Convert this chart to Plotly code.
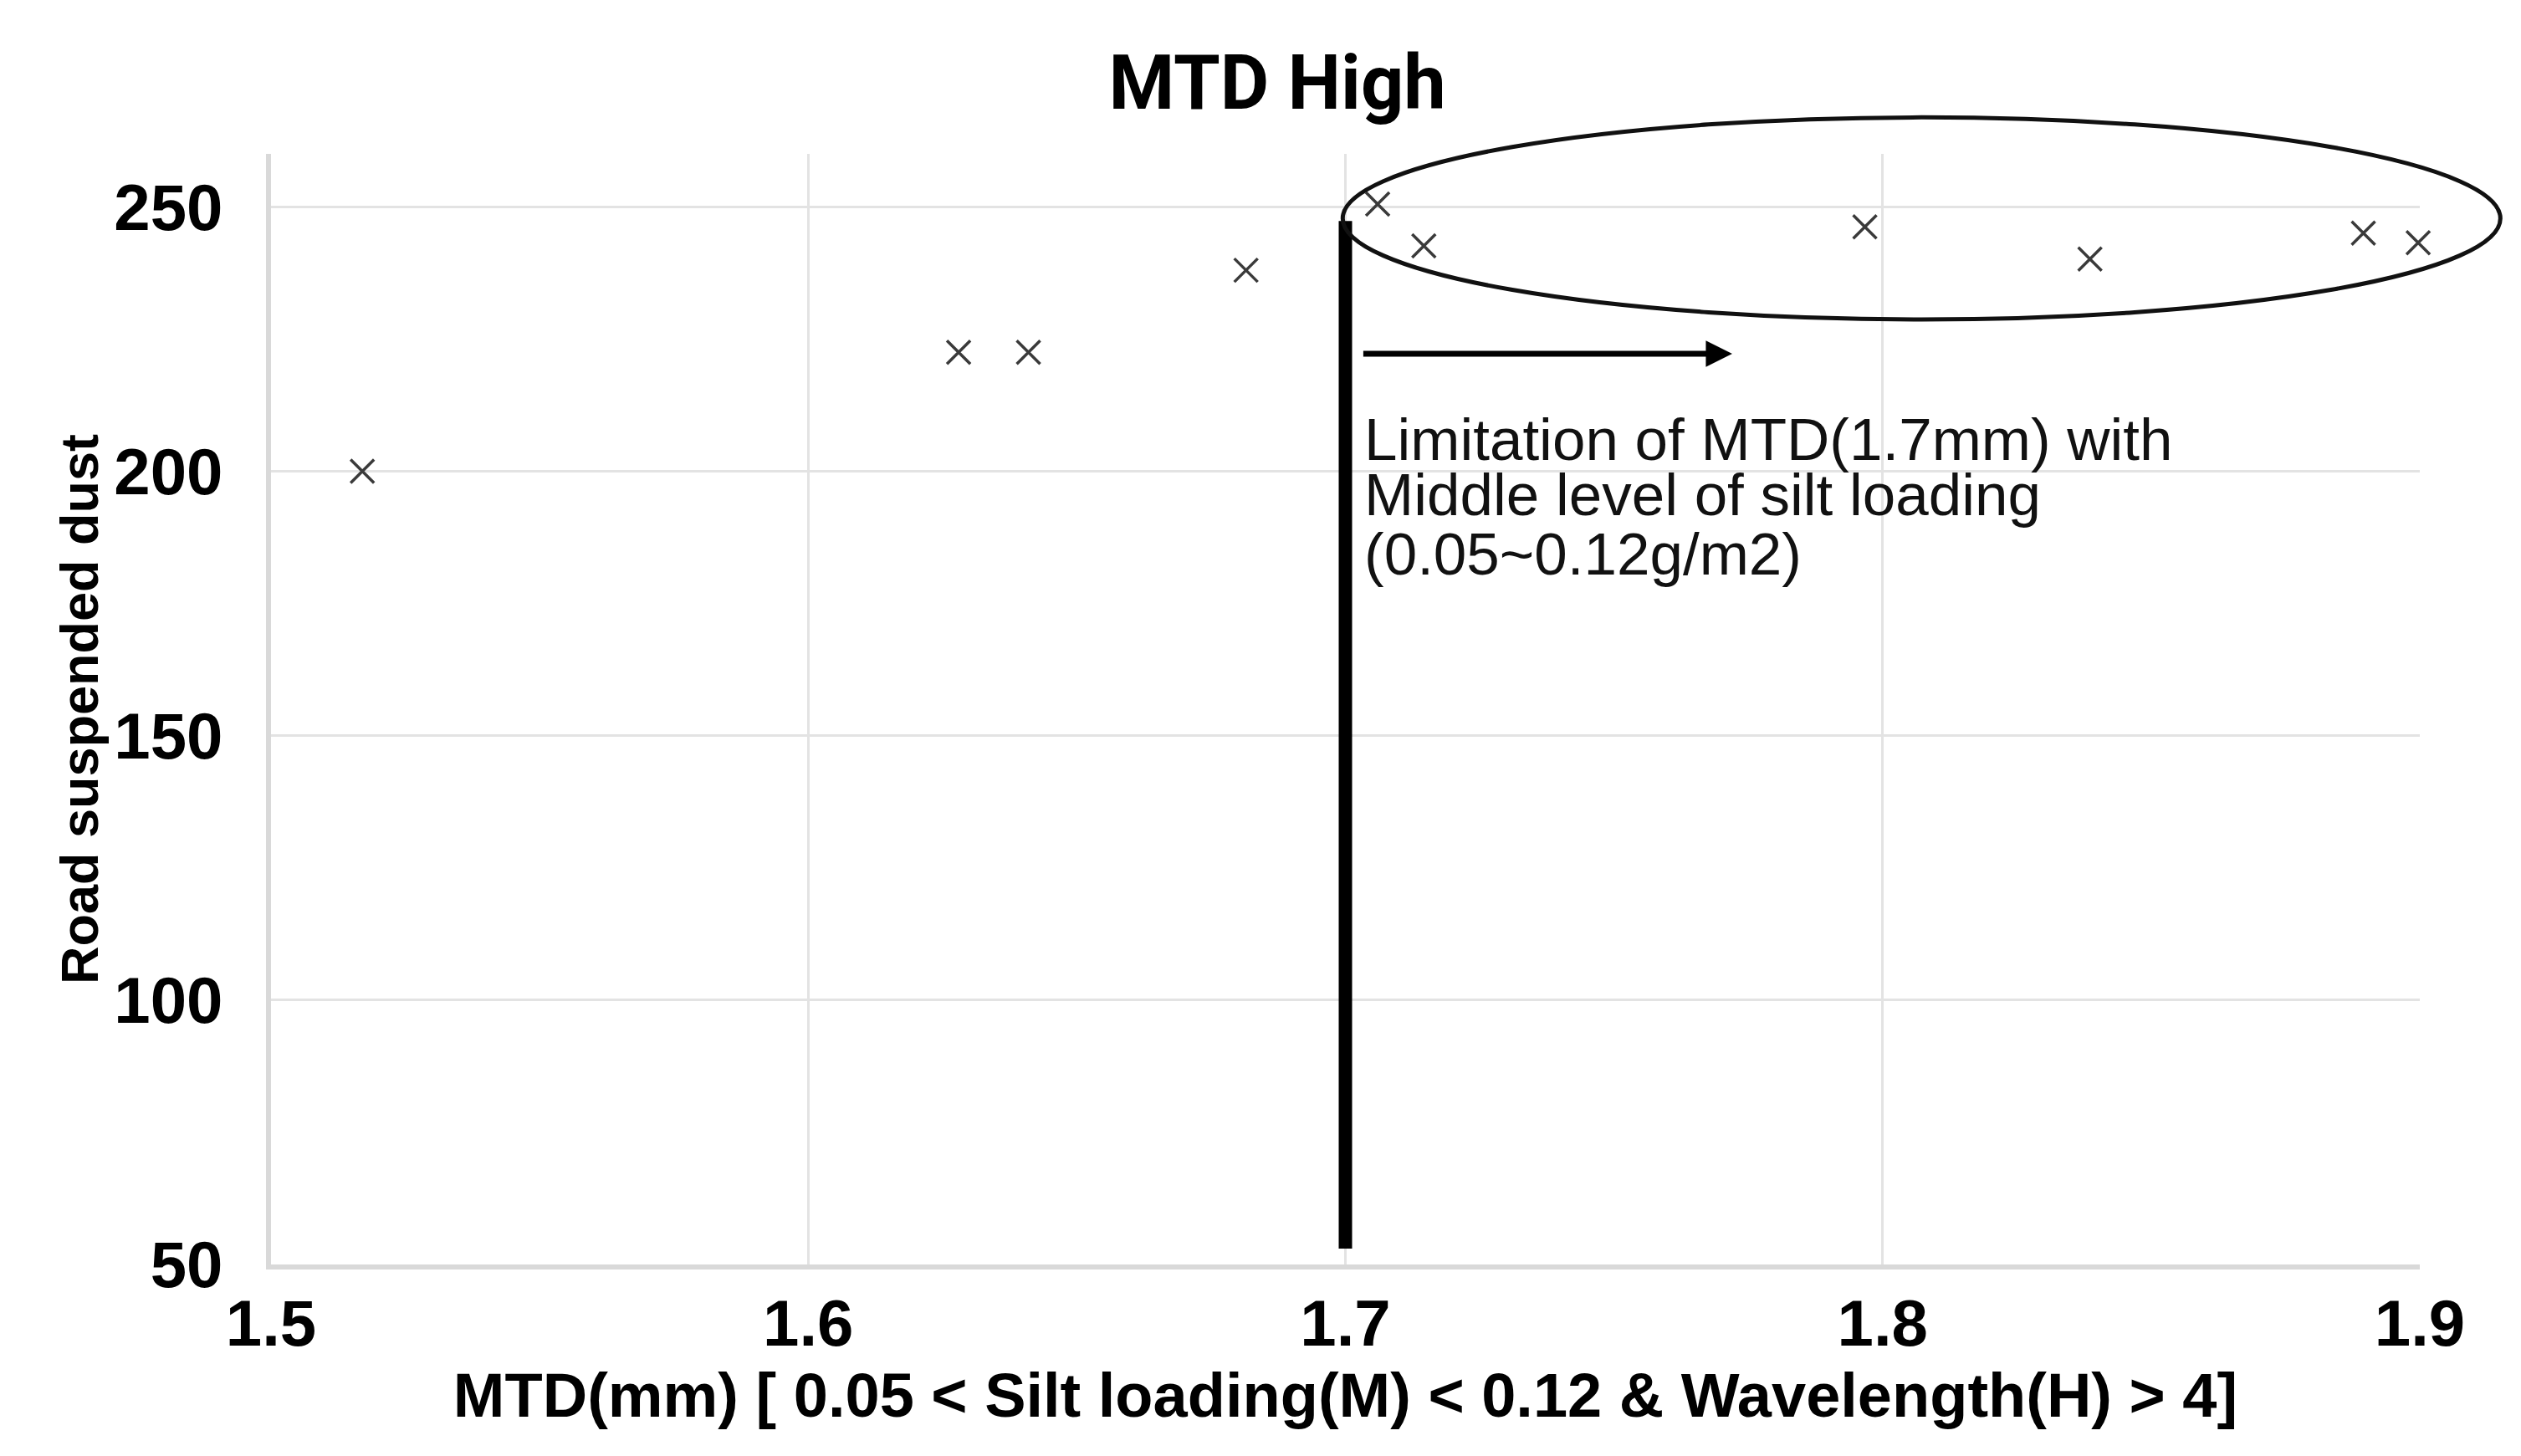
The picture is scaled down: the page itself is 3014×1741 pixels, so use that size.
import plotly.graph_objects as go

# ---- data ----
mtd = [1.517, 1.628, 1.641, 1.6815, 1.706, 1.7146, 1.7967, 1.8386, 1.8895, 1.8997]
dust = [200.0, 222.5, 222.5, 238.0, 250.5, 242.6, 246.2, 240.1, 245.0, 243.2]

x_ticks = [1.5, 1.6, 1.7, 1.8, 1.9]
x_tick_text = ["1.5", "1.6", "1.7", "1.8", "1.9"]
y_ticks = [50, 100, 150, 200, 250]
y_tick_text = ["50", "100", "150", "200", "250"]

x_range = [1.5, 1.9]
y_range = [50, 260]

limit_mtd = 1.7
limit_line_y = [53, 247.3]
arrow_from = (1.7031, 222.2)
arrow_to = (1.772, 222.2)
ellipse_x = [1.6995, 1.915]
ellipse_y = [228.7, 266.9]

note_lines = ["Limitation of MTD(1.7mm) with",
              "Middle level of silt loading",
              "(0.05~0.12g/m2)"]
note_y = [206.0, 195.5, 184.3]

title_text = "MTD High"
x_title = "MTD(mm) [ 0.05 < Silt loading(M) < 0.12 & Wavelength(H) > 4]"
y_title = "Road suspended dust"


def px_(x):
    return (x - x_range[0]) / (x_range[1] - x_range[0])


def py_(y):
    return (y - y_range[0]) / (y_range[1] - y_range[0])


fig = go.Figure()
fig.add_trace(go.Scatter(
    x=mtd, y=dust, mode="markers",
    marker=dict(symbol="x-thin-open", size=28, color="#3a3a3a",
                line=dict(width=3.5, color="#3a3a3a")),
    cliponaxis=False, showlegend=False,
))

shapes = [
    dict(type="line", xref="x", yref="y", x0=limit_mtd, x1=limit_mtd,
         y0=limit_line_y[0], y1=limit_line_y[1],
         line=dict(color="black", width=16), layer="above"),
    dict(type="circle", xref="paper", yref="paper",
         x0=px_(ellipse_x[0]), x1=px_(ellipse_x[1]),
         y0=py_(ellipse_y[0]), y1=py_(ellipse_y[1]),
         line=dict(color="#111111", width=5), layer="above"),
]

annotations = [
    dict(x=arrow_to[0], y=arrow_to[1], ax=arrow_from[0], ay=arrow_from[1],
         xref="x", yref="y", axref="x", ayref="y", text="",
         showarrow=True, arrowhead=2, arrowsize=0.9, arrowwidth=7,
         arrowcolor="black"),
]
for t, yy in zip(note_lines, note_y):
    annotations.append(dict(
        x=limit_mtd, y=yy, xref="x", yref="y", text=t, showarrow=False,
        xanchor="left", yanchor="middle", xshift=20,
        font=dict(family="Liberation Sans", size=71, color="#111111")))

fig.update_layout(
    width=3014, height=1741, autosize=False,
    margin=dict(l=316, r=129, t=176, b=237),
    paper_bgcolor="white", plot_bgcolor="white",
    title=dict(text=title_text, x=0.504, xanchor="center",
               y=1 - 90 / 1741, yanchor="middle", yref="container",
               font=dict(family="Roboto", size=90, color="black", weight="bold")),
    shapes=shapes, annotations=annotations,
    xaxis=dict(range=x_range, tickvals=x_ticks, ticktext=x_tick_text,
               showgrid=True, gridcolor="#e3e3e3", gridwidth=3,
               showline=True, linecolor="#d9d9d9", linewidth=6,
               zeroline=False, ticks="", ticklabelstandoff=-3,
               tickfont=dict(family="Liberation Sans", size=78, color="black", weight="bold"),
               title=dict(text=x_title, standoff=20,
                          font=dict(family="Liberation Sans", size=74, color="black", weight="bold"))),
    yaxis=dict(range=y_range, tickvals=y_ticks, ticktext=y_tick_text,
               showgrid=True, gridcolor="#e3e3e3", gridwidth=3,
               showline=True, linecolor="#d9d9d9", linewidth=6,
               zeroline=False, ticks="", ticklabelstandoff=36,
               tickfont=dict(family="Liberation Sans", size=78, color="black", weight="bold"),
               title=dict(text=y_title, standoff=0,
                          font=dict(family="Liberation Sans", size=63, color="black", weight="bold"))),
)

fig.write_html("out.html")
